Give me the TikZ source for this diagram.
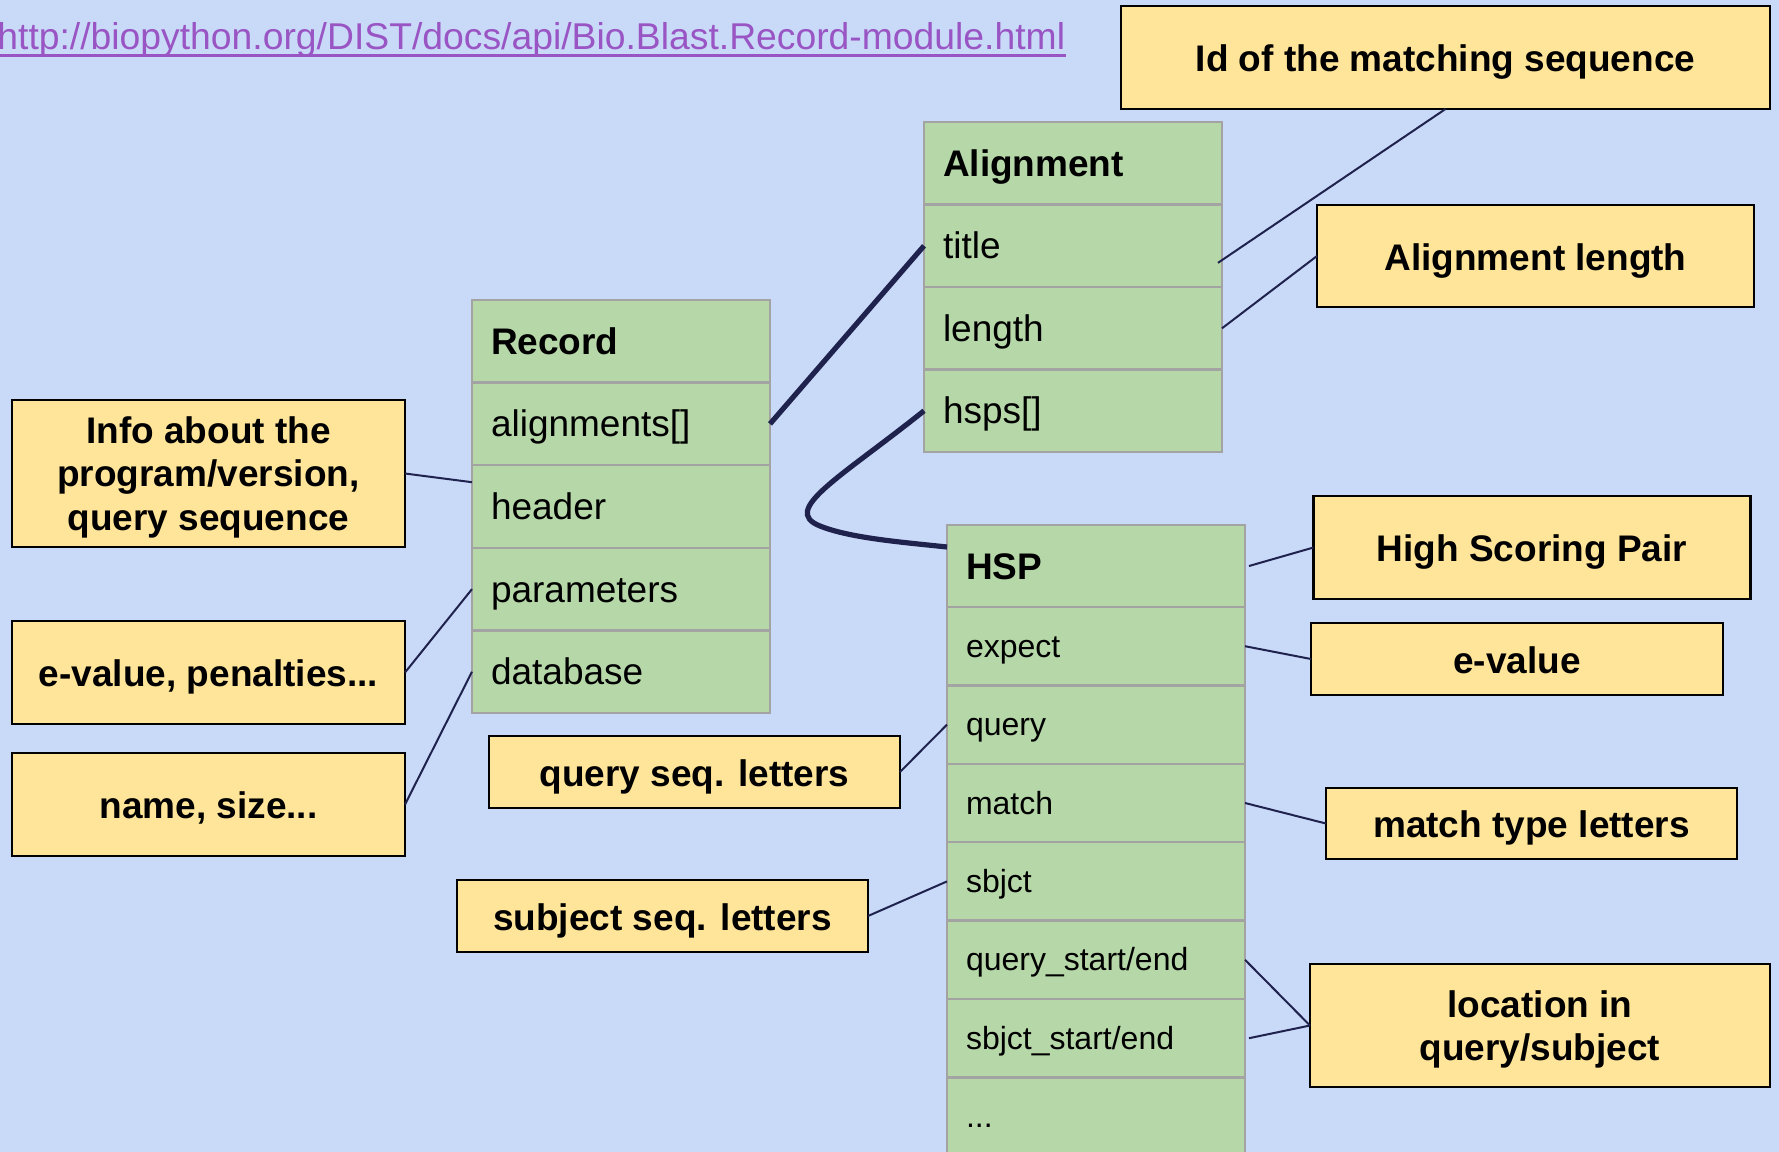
\documentclass[tikz,border=0pt]{standalone}
\usepackage{fontspec}
\setmainfont{Liberation Sans}
\usetikzlibrary{calc}

\definecolor{bgblue}{HTML}{C9DAF8}
\definecolor{rowgreen}{HTML}{B6D7A8}
\definecolor{rowedge}{HTML}{A3A3A3}
\definecolor{notefill}{HTML}{FFE599}
\definecolor{wire}{HTML}{20224E}
\definecolor{linkpurple}{HTML}{9A55C4}

\tikzset{
  bigtext/.style={font=\fontsize{18.5pt}{21.75pt}\selectfont},
  field/.style={draw=rowedge, line width=1.2pt, fill=rowgreen, anchor=north west,
    inner xsep=9.5pt, inner ysep=0pt, outer sep=0pt, text width=130pt, align=left,
    minimum height=41.3pt, text height=13pt, text depth=0pt, bigtext},
  classhead/.style={field, font=\fontsize{18.5pt}{21.75pt}\selectfont\bfseries},
  hsphead/.style={classhead, minimum height=41pt},
  hspfield/.style={field, font=\fontsize{16pt}{19pt}\selectfont,
    minimum height=39.2pt, text height=11pt},
  notebox/.style={draw=black, line width=1.2pt, fill=notefill, inner sep=0pt, outer sep=0pt,
    align=center, font=\fontsize{18.5pt}{21.75pt}\selectfont\bfseries},
  note/.style={notebox, text height=14pt, text depth=0pt},
  multinote/.style={notebox, text depth=-1.5pt},
  leader/.style={draw=wire, line width=1pt},
  assoc/.style={draw=wire, line width=2.6pt},
}

\begin{document}
\begin{tikzpicture}[x=0.5pt, y=-0.5pt]
  \clip (0,0) rectangle (1779,1152);
  \fill[bgblue] (0,0) rectangle (1779,1152);

  % documentation link
  \node[anchor=base west, inner sep=0pt, text=linkpurple,
        font=\fontsize{18.65pt}{21.75pt}\selectfont] (url) at (-3,49.5)
    {http://biopython.org/DIST/docs/api/Bio.Blast.Record-module.html};
  \draw[linkpurple, line width=1.5pt] ([yshift=-3pt]url.base west) -- ([yshift=-3pt]url.base east);

  % Record class
  \node[classhead] (rec-head)   at (472,300)   {Record};
  \node[field]     (rec-align)  at (472,382.6) {alignments[]};
  \node[field]     (rec-header) at (472,465.2) {header};
  \node[field]     (rec-params) at (472,547.8) {parameters};
  \node[field]     (rec-db)     at (472,630.4) {database};

  % Alignment class
  \node[classhead] (al-head)   at (924,122)   {Alignment};
  \node[field]     (al-title)  at (924,204.5) {title};
  \node[field]     (al-length) at (924,287)   {length};
  \node[field]     (al-hsps)   at (924,369.5) {hsps[]};

  % HSP class
  \node[hsphead]  (hsp-head)   at (947,525)    {HSP};
  \node[hspfield] (hsp-expect) at (947,607)    {expect};
  \node[hspfield] (hsp-query)  at (947,685.4)  {query};
  \node[hspfield] (hsp-match)  at (947,763.8)  {match};
  \node[hspfield] (hsp-sbjct)  at (947,842.2)  {sbjct};
  \node[hspfield] (hsp-qse)    at (947,920.6)  {query\_start/end};
  \node[hspfield] (hsp-sse)    at (947,999)    {sbjct\_start/end};
  \node[hspfield] (hsp-more)   at (947,1077.4) {...};

  % explanatory notes
  \node[note, minimum width=649pt/2, minimum height=103pt/2] (n-id)     at (1445.5,57.5) {Id of the matching sequence};
  \node[note, minimum width=437pt/2, minimum height=102pt/2] (n-alen)   at (1535.5,256)  {Alignment length};
  \node[note, minimum width=437pt/2, minimum height=103pt/2] (n-hsp)    at (1532,547.5)  {High Scoring Pair};
  \node[note, minimum width=412pt/2, minimum height=72pt/2]  (n-eval)   at (1517,659)    {e-value};
  \node[note, minimum width=411pt/2, minimum height=71pt/2]  (n-match)  at (1531.5,823.5){match type letters};
  \node[multinote, minimum width=460pt/2, minimum height=123pt/2] (n-loc) at (1540,1025.5) {location in\\query/subject};
  \node[note, minimum width=411pt/2, minimum height=72pt/2]  (n-qseq)   at (694.5,772)   {query seq. letters};
  \node[note, minimum width=411pt/2, minimum height=72pt/2]  (n-sseq)   at (662.5,916)   {subject seq. letters};
  \node[multinote, minimum width=393pt/2, minimum height=147pt/2] (n-info) at (208.5,473.5) {Info about the\\program/version,\\query sequence};
  \node[note, minimum width=393pt/2, minimum height=103pt/2] (n-params) at (208.5,672.5) {e-value, penalties...};
  \node[note, minimum width=393pt/2, minimum height=103pt/2] (n-db)     at (208.5,804.5) {name, size...};

  % associations between classes
  \draw[assoc] (rec-align.east) -- (al-title.west);
  \draw[assoc] (al-hsps.west) .. controls (840,478) and (780,510) .. (820,526)
               .. controls (850,538) and (900,542) .. ([yshift=-11pt]hsp-head.north west);

  % note leaders
  \draw[leader] (n-info.east) -- ([yshift=-8.5pt]rec-header.north west);
  \draw[leader] (n-params.east) -- (rec-params.west);
  \draw[leader] (n-db.east) -- (rec-db.west);
  \draw[leader] (n-id.south) -- ([shift={(-2pt,-8.5pt)}]al-title.east);
  \draw[leader] (n-alen.west) -- (al-length.east);
  \draw[leader] (n-hsp.west) -- ([xshift=2pt]hsp-head.east);
  \draw[leader] (n-eval.west) -- (hsp-expect.east);
  \draw[leader] (n-match.west) -- (hsp-match.east);
  \draw[leader] (n-loc.west) -- (hsp-qse.east);
  \draw[leader] (n-loc.west) -- ([xshift=2pt]hsp-sse.east);
  \draw[leader] (n-qseq.east) -- (hsp-query.west);
  \draw[leader] (n-sseq.east) -- (hsp-sbjct.west);
\end{tikzpicture}
\end{document}
